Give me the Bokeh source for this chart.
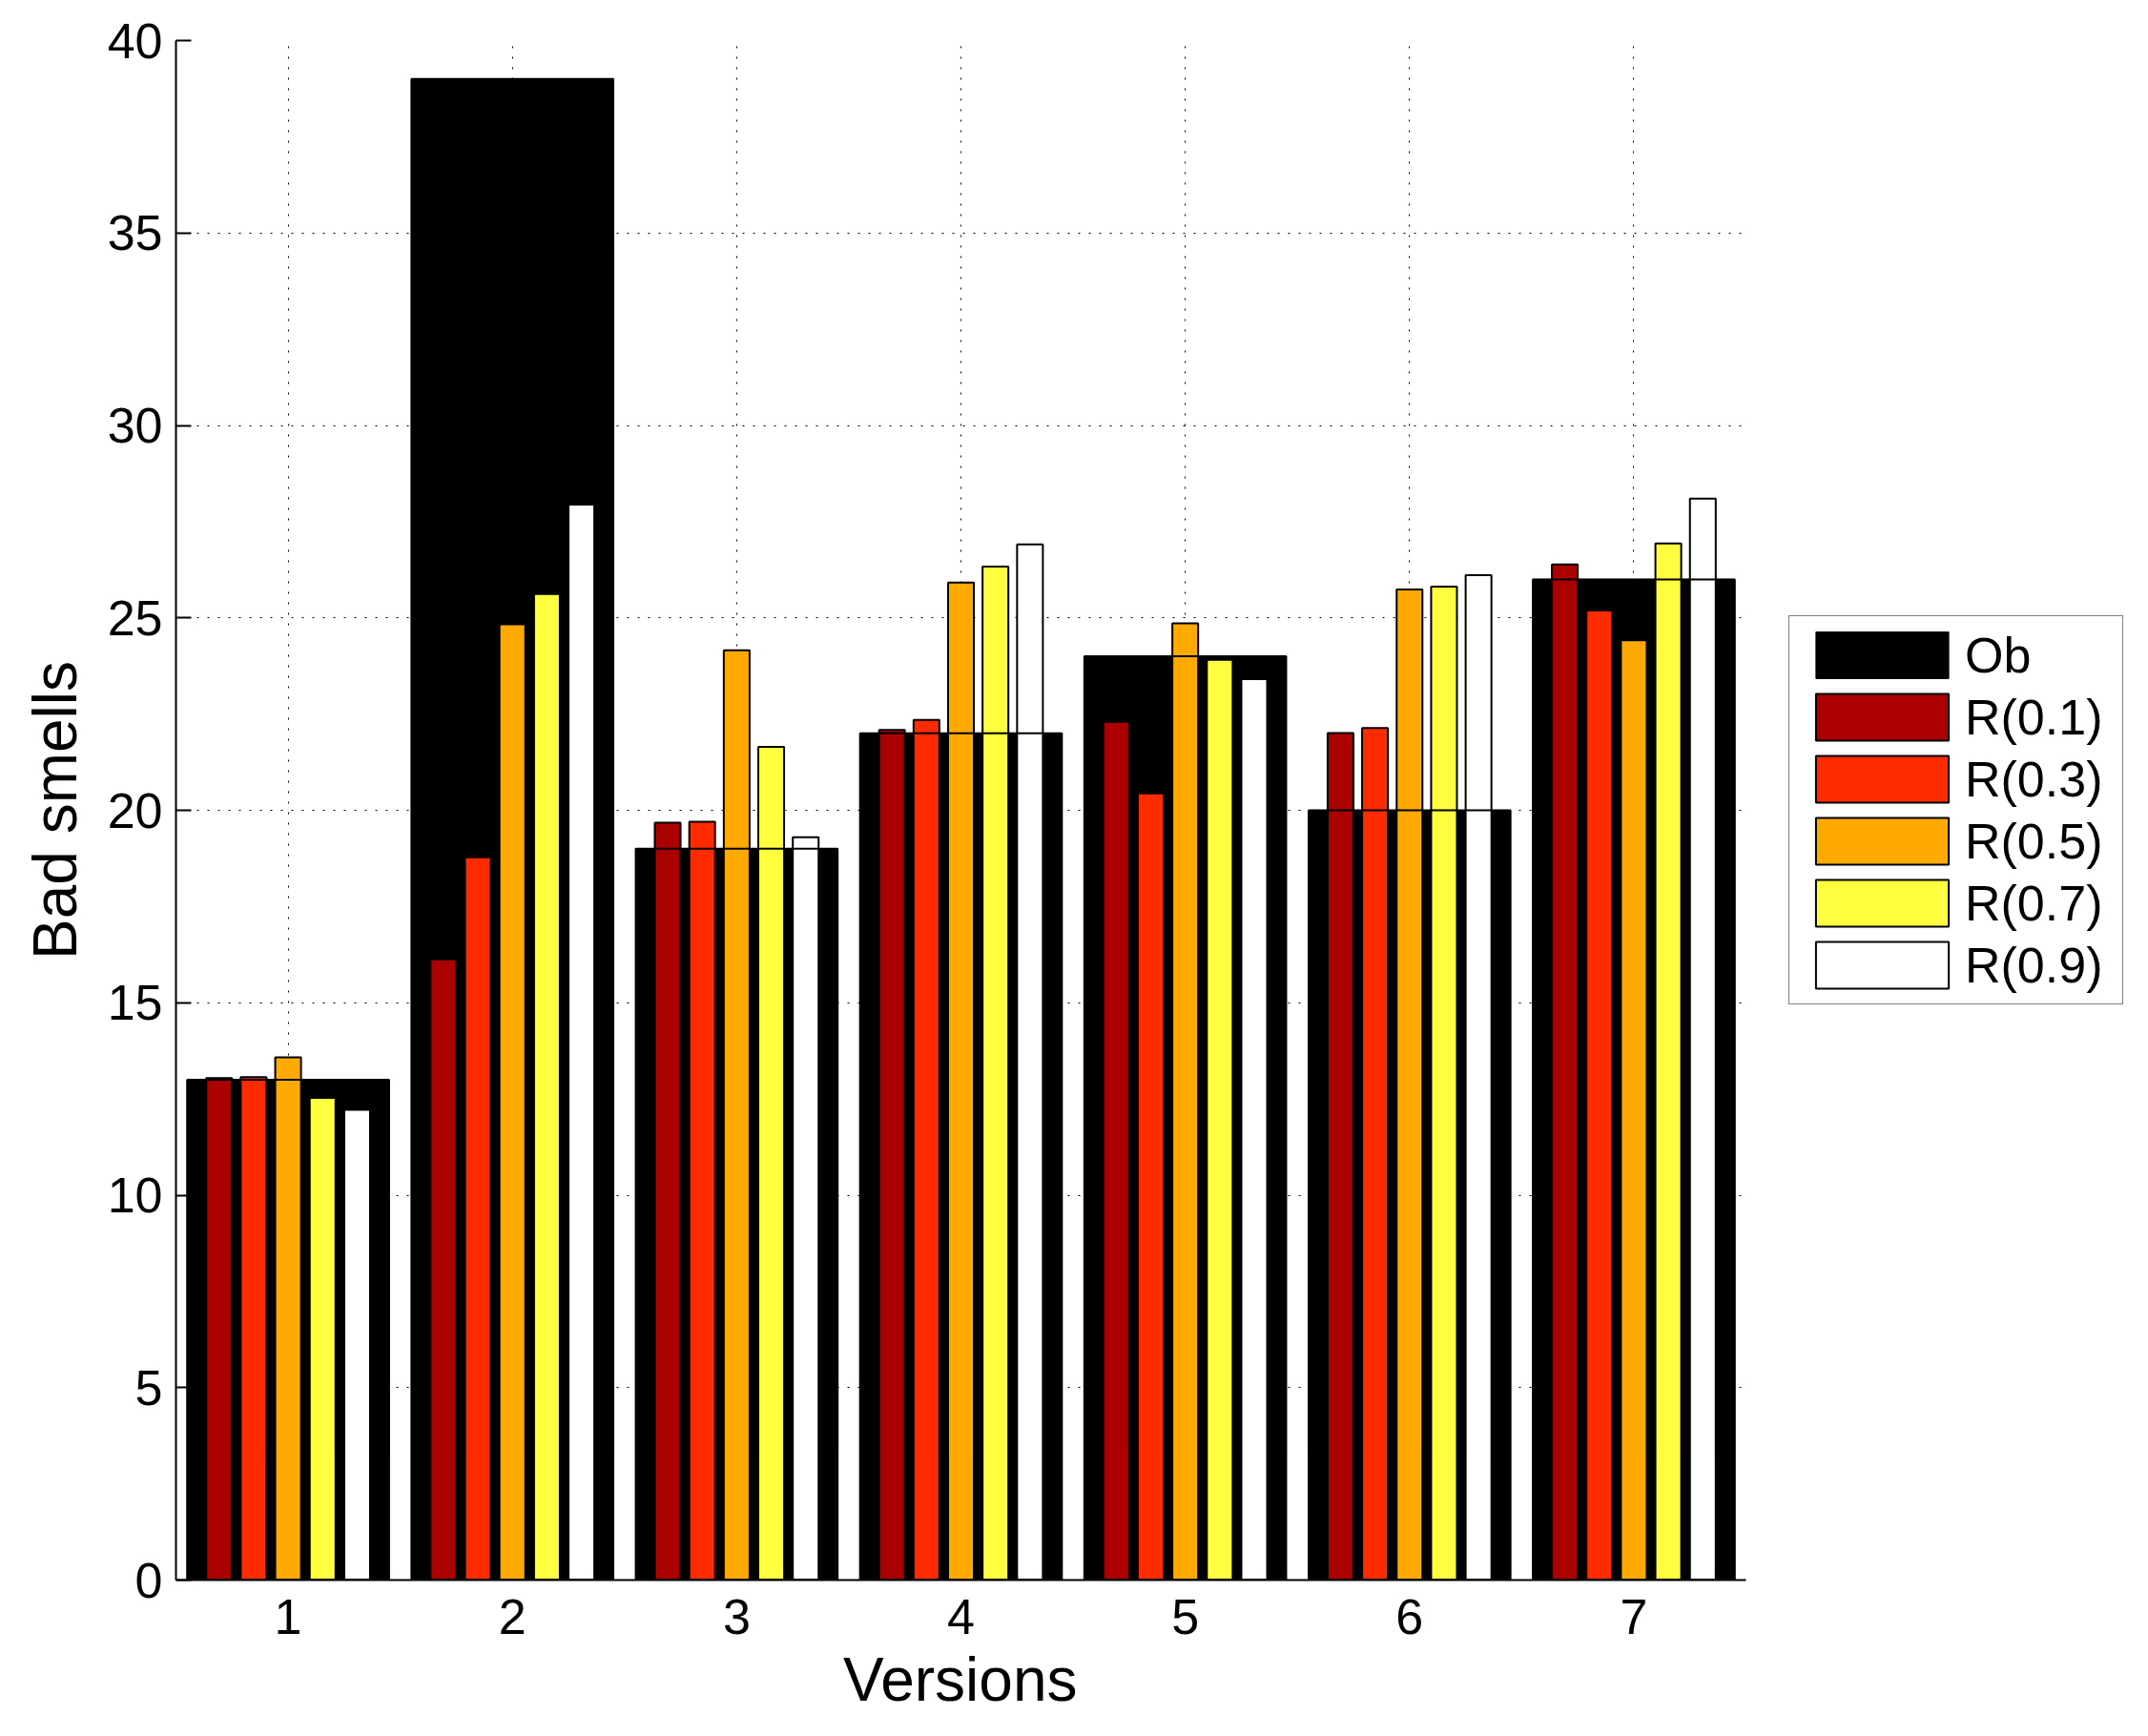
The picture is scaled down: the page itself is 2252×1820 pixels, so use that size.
import numpy as np
from bokeh.plotting import figure
from bokeh.models import (Range1d, FixedTicker, Legend, LegendItem, ColumnDataSource, Title)
from bokeh.embed import file_html
from bokeh.resources import INLINE

# ---------------- data ----------------
versions = [1, 2, 3, 4, 5, 6, 7]
ob    = [13, 39, 19, 22, 24, 20, 26]
r01   = [13.04, 16.13, 19.68, 22.09, 22.30, 22.01, 26.39]
r03   = [13.07, 18.78, 19.70, 22.35, 20.44, 22.14, 25.19]
r05   = [13.58, 24.83, 24.16, 25.92, 24.86, 25.74, 24.42]
r07   = [12.53, 25.62, 21.65, 26.33, 23.91, 25.81, 26.93]
r09   = [12.22, 27.94, 19.30, 26.91, 23.41, 26.11, 28.10]
series_names = ["R(0.1)", "R(0.3)", "R(0.5)", "R(0.7)", "R(0.9)"]
series_vals = [r01, r03, r05, r07, r09]
series_colors = ["#AA0000", "#FF2B00", "#FFAA00", "#FFFF3F", "#FFFFFF"]
y_ticks = [0, 5, 10, 15, 20, 25, 30, 35, 40]
x_label = "Versions"
y_label = "Bad smells"

FONT = "Liberation Sans"

W, H = 2252, 1820
LEFT, TOP, BOTTOM = 184, 42, 164
AXES_W = 1646            # width of the drawn axes (0.5 .. 7.5)
X0, X1 = 0.5, 7.5
frame_w = W - LEFT
x_end = X0 + (X1 - X0) * frame_w / AXES_W   # extra room on the right holds the legend

p = figure(width=W, height=H, output_backend="svg", toolbar_location=None,
           x_range=Range1d(X0, x_end), y_range=Range1d(0, 40),
           min_border_left=LEFT, min_border_right=0,
           min_border_top=TOP, min_border_bottom=BOTTOM)
p.outline_line_color = None
p.background_fill_color = "white"
p.border_fill_color = "white"

# Ob bars (wide, black)
ob_src = ColumnDataSource(dict(x=versions, top=ob))
ob_r = p.vbar(x="x", top="top", bottom=0, width=0.9, source=ob_src,
              fill_color="black", line_color="black", line_width=1)

# Grouped R bars
n = len(series_vals)
group_w = n / (n + 1.5)
step = group_w / n
bar_w = 0.115
r_renderers = []
for i, (vals, col) in enumerate(zip(series_vals, series_colors)):
    xs = np.array(versions, dtype=float) + (i - (n - 1) / 2) * step
    src = ColumnDataSource(dict(x=xs, top=vals))
    r = p.vbar(x="x", top="top", bottom=0, width=bar_w, source=src,
               fill_color=col, line_color="black", line_width=2)
    r_renderers.append(r)

# Ob outline drawn over the R bars
p.vbar(x="x", top="top", bottom=0, width=0.9, source=ob_src,
       fill_color=None, line_color="black", line_width=2)

# axes
xa = p.xaxis[0]
ya = p.yaxis[0]
xa.ticker = FixedTicker(ticks=versions)
ya.ticker = FixedTicker(ticks=y_ticks)
xa.bounds = (X0, X1)
for ax in (xa, ya):
    ax.axis_line_color = "black"
    ax.axis_line_width = 2
    ax.major_tick_line_color = "black"
    ax.major_tick_line_width = 2
    ax.major_tick_out = 0
    ax.minor_tick_line_color = None
    ax.major_label_text_font = FONT
    ax.major_label_text_font_size = "52px"
    ax.major_label_text_color = "black"
    ax.axis_label_text_font = FONT
    ax.axis_label_text_font_size = "64px"
    ax.axis_label_text_font_style = "normal"
    ax.axis_label_text_color = "black"
xa.major_tick_in = 0
ya.major_tick_in = 16
xa.major_label_standoff = 20
ya.major_label_standoff = 14
ya.axis_label_standoff = 16
ya.axis_label = y_label

# x-axis label, centred under the drawn axis (not under the legend area)
label_w = 249  # approximate rendered width of the label text
xlab = Title(text=x_label, align="left", offset=AXES_W / 2 - label_w / 2 + 1,
             text_font=FONT, text_font_size="64px", text_font_style="normal",
             text_color="black", standoff=14)
p.add_layout(xlab, "below")

# grid (dotted, limited to the axes area)
xg = p.xgrid[0]
yg = p.ygrid[0]
xg.ticker = FixedTicker(ticks=versions)
yg.ticker = FixedTicker(ticks=y_ticks)
for g in (xg, yg):
    g.grid_line_color = "black"
    g.grid_line_width = 1
    g.grid_line_dash = "2 9"
if "cross_bounds" in yg.properties():
    yg.cross_bounds = (X0, X1)
else:
    yg.visible = False
    p.segment(x0=[X0] * len(y_ticks), x1=[X1] * len(y_ticks), y0=y_ticks, y1=y_ticks,
              line_color="black", line_width=1, line_dash="2 9", level="underlay")

# legend (to the right of the axes)
items = [LegendItem(label="Ob", renderers=[ob_r])]
for name, r in zip(series_names, r_renderers):
    items.append(LegendItem(label=name, renderers=[r]))
legend = Legend(items=items, location=(AXES_W + 45, 603))
legend.glyph_width = 174
legend.glyph_height = 61
legend.label_height = 61
legend.label_width = 155
legend.label_standoff = 0
legend.spacing = 4
legend.padding = 10
legend.margin = 0
legend.border_line_color = "black"
legend.border_line_width = 1.5
legend.background_fill_color = "white"
legend.background_fill_alpha = 1
legend.label_text_font = FONT
legend.label_text_font_size = "52px"
legend.label_text_color = "black"
p.add_layout(legend, "center")

open("out.html", "w").write(file_html(p, INLINE))
